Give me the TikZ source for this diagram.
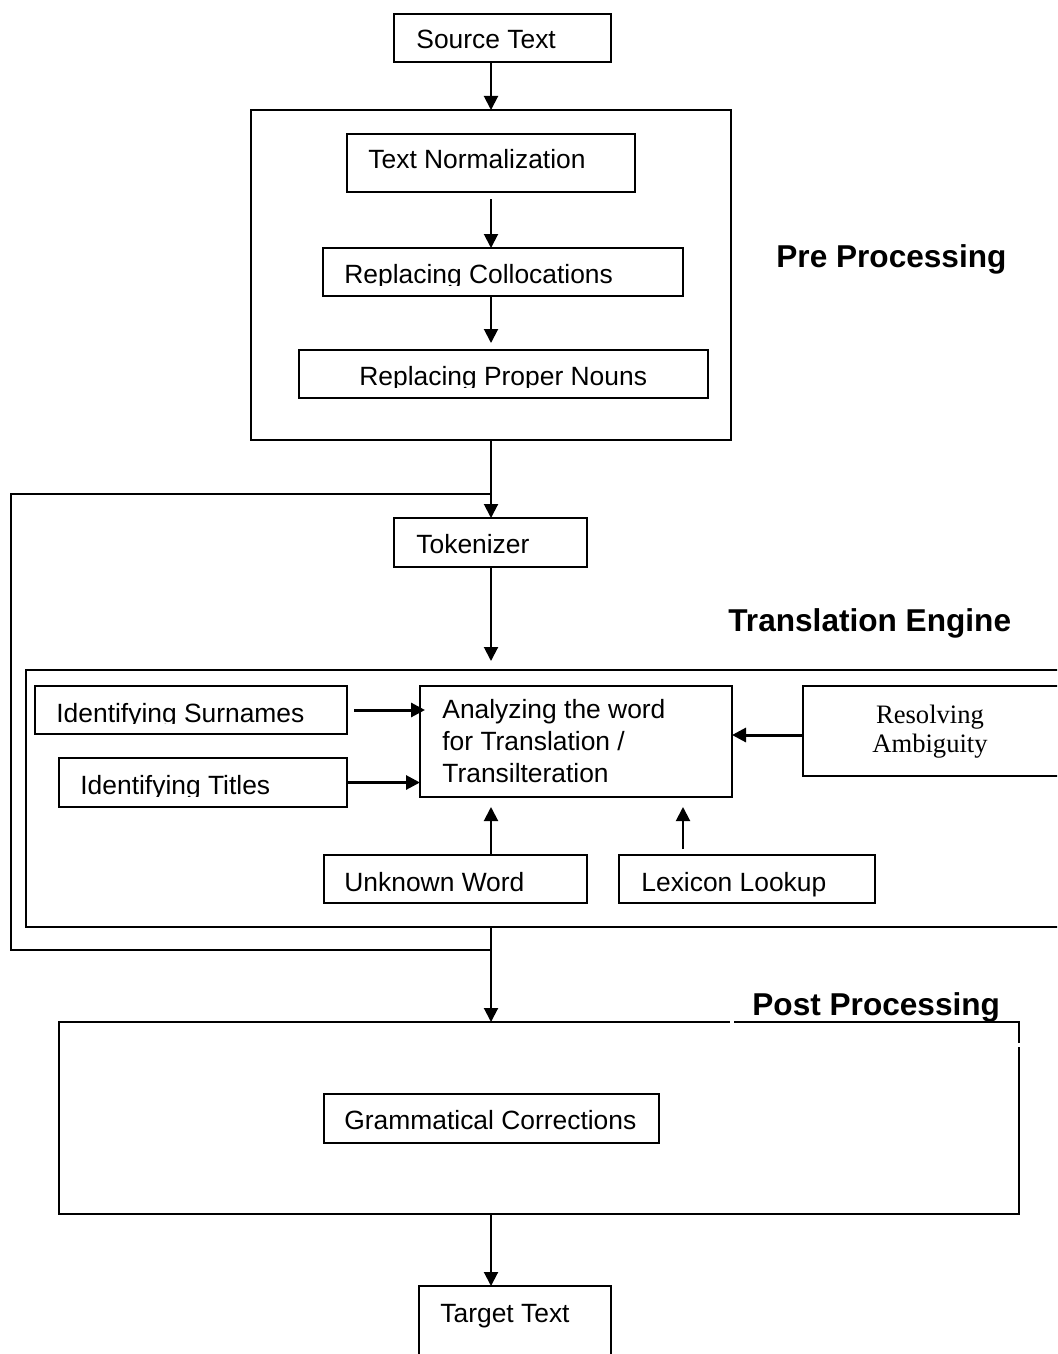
\documentclass[tikz,border=0pt]{standalone}
\usepackage{fontspec}
\setmainfont{Liberation Sans}
\newfontfamily\tnrfont{Liberation Serif}
\usetikzlibrary{arrows.meta,fit}
\tikzset{
  box/.style={draw, line width=1pt, inner sep=0pt, outer sep=0pt},
  lbl/.style={anchor=base west, inner sep=0pt, font=\fontsize{13.2}{15.5}\selectfont},
  head/.style={anchor=base west, inner sep=0pt, font=\fontsize{15.8}{19}\selectfont\bfseries},
  serlbl/.style={anchor=base, inner sep=0pt, font=\tnrfont\fontsize{13.3}{15.5}\selectfont},
  arr/.style={-{Triangle[length=7pt,width=7pt]}, line width=1pt},
  tarr/.style={-{Triangle[length=7pt,width=7pt]}, line width=1.5pt},
  frame/.style={line width=1pt}
}
\newcommand\mkbox[5]{\coordinate (#1-a) at (#2,#3); \coordinate (#1-b) at (#4,#5); \node[box, fit=(#1-a)(#1-b)] (#1) {};}
\begin{document}
\begin{tikzpicture}[x=0.5pt,y=-0.5pt]
\clip (0,0) rectangle (1057,1354);
\fill[white] (0,0) rectangle (1057,1354);
\coordinate (ax) at (491,0);
\coordinate (lx) at (683,0);
% boxes
\mkbox{src}{394}{14}{611}{62}
\mkbox{pre}{251}{110}{731}{440}
\mkbox{tn}{347}{134}{635}{192}
\mkbox{rc}{323}{248}{683}{296}
\mkbox{rpn}{299}{350}{708}{398}
\mkbox{tok}{394}{518}{587}{567}
\mkbox{inner}{26}{670}{1090}{927}
\mkbox{sur}{35}{686}{347}{734}
\mkbox{tit}{59}{758}{347}{807}
\mkbox{ana}{420}{686}{732}{797}
\mkbox{res}{803}{686}{1090}{776}
\mkbox{unk}{324}{855}{587}{903}
\mkbox{lex}{619}{855}{875}{903}
\mkbox{post}{59}{1022}{1019}{1214}
\mkbox{gc}{324}{1094}{659}{1143}
\mkbox{tgt}{419}{1286}{611}{1400}
% gaps in post box outline
\fill[white] (730,1018) rectangle (734,1027);
\fill[white] (1014,1043) rectangle (1024,1047);
% texts
\node[lbl] (tsrc) at (416,49) {Source Text};
\node[lbl] (ttn) at (368,169) {Text Normalization};
\begin{scope}
\clip (323,248) rectangle (683,285.5);
\node[lbl] (trc) at (344,283) {Replacing Collocations};
\end{scope}
\begin{scope}
\clip (299,350) rectangle (708,387.5);
\node[lbl] (trpn) at (359,385) {Replacing Proper Nouns};
\end{scope}
\node[head] (hpre) at (776,267) {Pre Processing};
\node[lbl] (ttok) at (416,553) {Tokenizer};
\node[head] (htr) at (728,631) {Translation Engine};
\begin{scope}
\clip (35,686) rectangle (347,723.5);
\node[lbl] (tsur) at (56,722) {Identifying Surnames};
\end{scope}
\begin{scope}
\clip (59,758) rectangle (347,796.5);
\node[lbl] (ttit) at (80,794) {Identifying Titles};
\end{scope}
\node[lbl] (tana1) at (442,718) {Analyzing the word};
\node[lbl] (tana2) at (442,750) {for Translation /};
\node[lbl] (tana3) at (442,782) {Transilteration};
\node[serlbl] (tres1) at (930,723) {Resolving};
\node[serlbl] (tres2) at (930,752) {Ambiguity};
\node[lbl] (tunk) at (344,891) {Unknown Word};
\node[lbl] (tlex) at (641,891) {Lexicon Lookup};
\node[head] (hpost) at (752,1015) {Post Processing};
\node[lbl] (tgc) at (344,1129) {Grammatical Corrections};
\node[lbl] (ttgt) at (440,1322) {Target Text};
% translation engine bracket
\draw[frame] (ax |- 0,494) -- (11,494) -- (11,950) -- (ax |- 0,950);
% connectors
\draw[arr] (src.south -| ax) -- (pre.north -| ax);
\draw[arr, shorten <=3.5pt] (tn.south -| ax) -- (rc.north -| ax);
\draw[arr, shorten >=3.5pt] (rc.south -| ax) -- (rpn.north -| ax);
\draw[arr] (pre.south -| ax) -- (tok.north -| ax);
\draw[arr, shorten >=4.5pt] (tok.south -| ax) -- (inner.north -| ax);
\draw[tarr, shorten <=3.5pt, shorten >=-2.5pt] (sur.east) -- (sur.east -| ana.west);
\draw[tarr] (tit.east) -- (tit.east -| ana.west);
\draw[tarr] ([yshift=-2pt]res.west) -- ([yshift=-2pt]res.west -| ana.east);
\draw[arr, shorten >=5pt] (unk.north -| ax) -- (ana.south -| ax);
\draw[arr, shorten <=3pt, shorten >=5pt] (lex.north -| lx) -- (ana.south -| lx);
\draw[arr] (inner.south -| ax) -- (post.north -| ax);
\draw[arr] (post.south -| ax) -- (tgt.north -| ax);
\end{tikzpicture}
\end{document}
